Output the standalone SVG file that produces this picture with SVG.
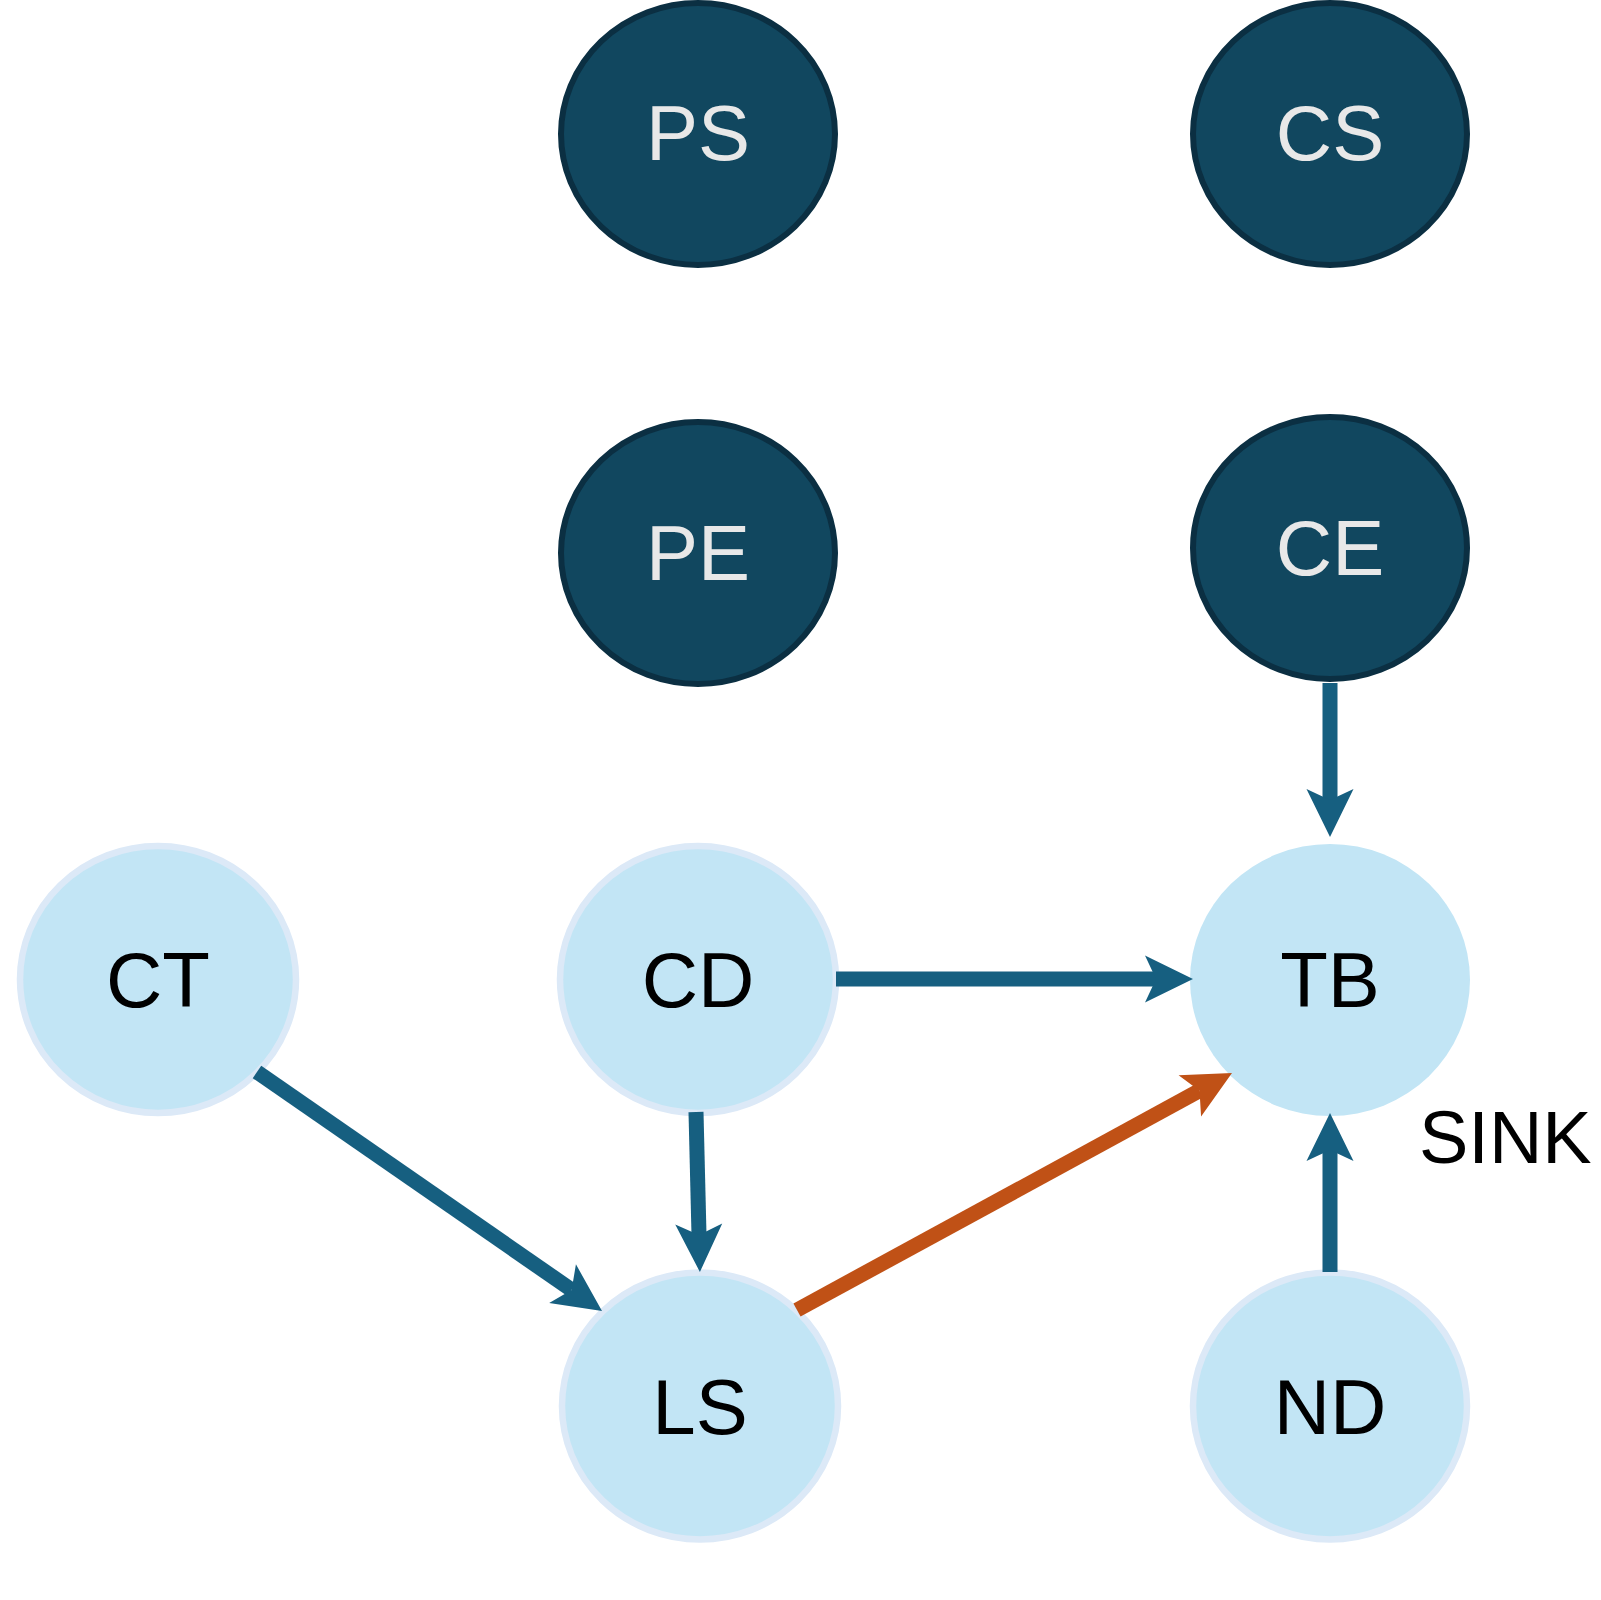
<svg xmlns="http://www.w3.org/2000/svg" width="1601" height="1600" viewBox="0 0 1601 1600">
<style>
.dark ellipse{fill:#11475f;stroke:#0b2f42;stroke-width:6}
.dark text{fill:#e8e8e8}
.light ellipse{fill:#c2e5f5;stroke:#dce9f7;stroke-width:6.5}
.light text{fill:#000}
text{font-family:"Liberation Sans",Arial,sans-serif;font-size:78px;text-anchor:middle}
.edge{fill:none;stroke-width:15;stroke-linecap:butt}
.blue{stroke:#165f80}
.orange{stroke:#c05116}
</style>
<defs>
<marker id="ahb" markerUnits="userSpaceOnUse" orient="auto" refX="0" refY="0" markerWidth="10" markerHeight="10" overflow="visible">
<path d="M37,0 L-11,-23.5 L0,0 L-11,23.5 Z" fill="#165f80"/>
</marker>
<marker id="aho" markerUnits="userSpaceOnUse" orient="auto" refX="0" refY="0" markerWidth="10" markerHeight="10" overflow="visible">
<path d="M37,0 L-11,-23.5 L0,0 L-11,23.5 Z" fill="#c05116"/>
</marker>
</defs>
<rect width="1601" height="1600" fill="#fff"/>
<g id="node-PS" class="dark"><ellipse cx="698" cy="134" rx="137" ry="131"/><text x="698" y="160">PS</text></g>
<g id="node-CS" class="dark"><ellipse cx="1330" cy="134" rx="137" ry="131"/><text x="1330" y="160">CS</text></g>
<g id="node-PE" class="dark"><ellipse cx="698" cy="553" rx="137" ry="131"/><text x="698" y="580">PE</text></g>
<g id="node-CE" class="dark"><ellipse cx="1330" cy="548" rx="137" ry="131"/><text x="1330" y="575">CE</text></g>
<g id="node-CT" class="light"><ellipse cx="158" cy="979.5" rx="138" ry="133.5"/><text x="158" y="1007">CT</text></g>
<g id="node-CD" class="light"><ellipse cx="698" cy="979.5" rx="138" ry="133.5"/><text x="698" y="1007">CD</text></g>
<g id="node-TB"><ellipse cx="1330" cy="980" rx="140" ry="136" fill="#c2e5f5"/><text x="1330" y="1007" fill="#000">TB</text></g>
<g id="node-LS" class="light"><ellipse cx="700" cy="1406" rx="138" ry="133.5"/><text x="700" y="1434">LS</text></g>
<g id="node-ND" class="light"><ellipse cx="1330" cy="1406" rx="137" ry="133.5"/><text x="1330" y="1434">ND</text></g>
<g id="label-SINK"><text x="1419" y="1163" style="font-size:74px;text-anchor:start" fill="#000">SINK</text></g>
<g id="connectors">
<line class="edge blue" x1="1330" y1="683" x2="1330" y2="800" marker-end="url(#ahb)"/>
<line class="edge blue" x1="836" y1="979" x2="1156" y2="979" marker-end="url(#ahb)"/>
<line class="edge blue" x1="696" y1="1112" x2="699" y2="1235" marker-end="url(#ahb)"/>
<line class="edge blue" x1="257" y1="1072" x2="571.6" y2="1289.9" marker-end="url(#ahb)"/>
<line class="edge orange" x1="797" y1="1310" x2="1199.5" y2="1090.7" marker-end="url(#aho)"/>
<line class="edge blue" x1="1330" y1="1272" x2="1330" y2="1150" marker-end="url(#ahb)"/>
</g>
</svg>
